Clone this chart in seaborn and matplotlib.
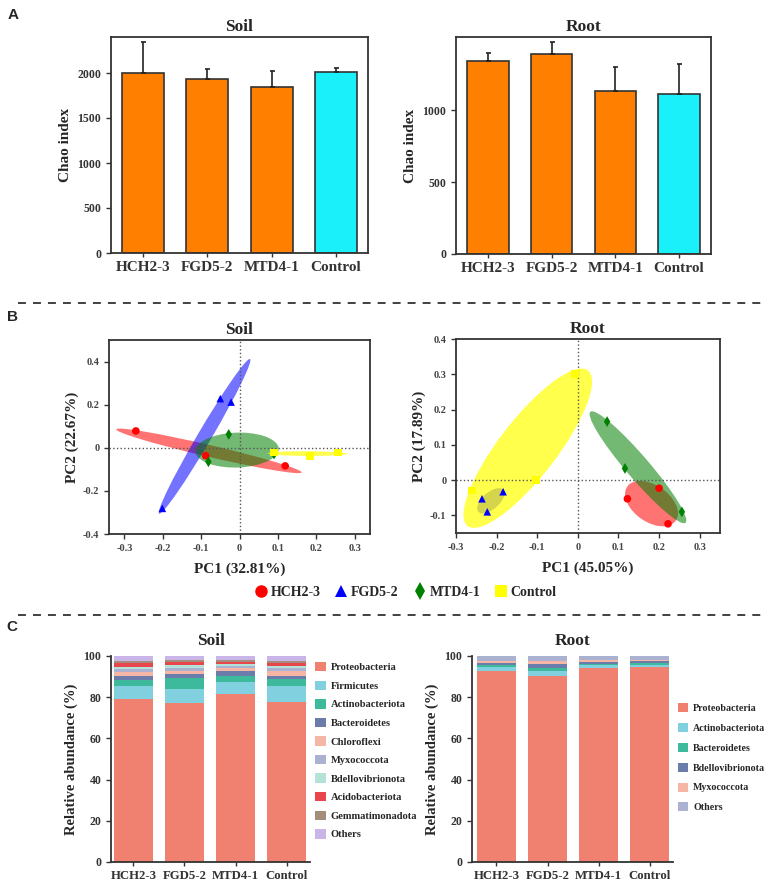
import matplotlib
matplotlib.use('Agg')
import matplotlib.pyplot as plt
from matplotlib.patches import Ellipse, Patch
from matplotlib.lines import Line2D
import seaborn as sns
import numpy as np
import pandas as pd

W, H = 767, 882

groups = ['HCH2-3', 'FGD5-2', 'MTD4-1', 'Control']

# A: Chao index, mean and upper error
chao_soil = [2003, 1930, 1844, 2008]
chao_soil_err = [340, 110, 180, 50]
chao_root = [1338, 1391, 1132, 1113]
chao_root_err = [56, 83, 169, 204]
bar_colors = ['#FF7F00', '#FF7F00', '#FF7F00', '#19F0FA']

# B: PCA scores (3 replicates per treatment)
pca_group = ['HCH2-3'] * 3 + ['FGD5-2'] * 3 + ['MTD4-1'] * 3 + ['Control'] * 3
soil_pc1 = [-0.270, -0.088, 0.119, -0.050, -0.022, -0.201, -0.028, -0.081, 0.090, 0.090, 0.184, 0.257]
soil_pc2 = [0.078, -0.037, -0.084, 0.228, 0.212, -0.281, 0.062, -0.065, -0.029, -0.022, -0.037, -0.022]
root_pc1 = [0.200, 0.122, 0.222, -0.236, -0.184, -0.223, 0.072, 0.116, 0.256, -0.007, -0.103, -0.260]
root_pc2 = [-0.023, -0.053, -0.124, -0.053, -0.033, -0.090, 0.166, 0.033, -0.090, 0.300, 0.000, -0.029]
pca_colors = {'HCH2-3': '#FF0000', 'FGD5-2': '#0000FF', 'MTD4-1': '#008000', 'Control': '#FFFF00'}
pca_markers = {'HCH2-3': 'o', 'FGD5-2': '^', 'MTD4-1': 'd', 'Control': 's'}
ell_alpha = {'HCH2-3': 0.55, 'FGD5-2': 0.55, 'MTD4-1': 0.55, 'Control': 0.7}
K_ELL = 1.24

# C: relative abundance (%) of phyla
soil_taxa = ['Proteobacteria', 'Firmicutes', 'Actinobacteriota', 'Bacteroidetes', 'Chloroflexi',
             'Myxococcota', 'Bdellovibrionota', 'Acidobacteriota', 'Gemmatimonadota', 'Others']
soil_abund = {
    'HCH2-3': [79.2, 6.0, 3.2, 2.1, 1.7, 1.4, 1.3, 1.6, 1.1, 2.4],
    'FGD5-2': [77.3, 6.5, 5.7, 1.8, 1.6, 1.4, 1.3, 1.3, 1.1, 2.0],
    'MTD4-1': [81.4, 5.8, 3.1, 2.4, 1.3, 1.1, 1.0, 1.0, 0.8, 2.1],
    'Control': [77.8, 7.6, 3.3, 1.6, 2.4, 1.3, 1.3, 1.5, 0.8, 2.4],
}
root_taxa = ['Proteobacteria', 'Actinobacteriota', 'Bacteroidetes', 'Bdellovibrionota', 'Myxococcota', 'Others']
root_abund = {
    'HCH2-3': [92.7, 2.0, 1.0, 0.9, 1.0, 2.4],
    'FGD5-2': [90.2, 2.5, 1.6, 1.6, 1.5, 2.6],
    'MTD4-1': [94.4, 1.1, 0.8, 1.0, 0.6, 2.1],
    'Control': [94.7, 1.1, 0.8, 0.8, 0.8, 1.8],
}
soil_colors = ['#F0806F', '#80D0E0', '#3DB99B', '#6B7CAA', '#F6B6A6',
               '#ABB1D0', '#B3E2D8', '#E8464C', '#A38E7C', '#CAB5E8']
root_colors = ['#F0806F', '#80D0E0', '#3DB99B', '#6B7CAA', '#F6B6A6', '#ABB1D0']

sns.set_style('ticks')
plt.rcParams['font.family'] = ['Liberation Serif', 'DejaVu Serif']
plt.rcParams['font.weight'] = 'bold'
plt.rcParams['axes.labelweight'] = 'bold'
plt.rcParams['axes.titleweight'] = 'bold'
plt.rcParams['axes.edgecolor'] = '#333333'
plt.rcParams['xtick.color'] = '#333333'
plt.rcParams['ytick.color'] = '#333333'

fig = plt.figure(figsize=(W / 100, H / 100), dpi=100)


def px_axes(x0, y0, x1, y1):
    return fig.add_axes([x0 / W, 1 - y1 / H, (x1 - x0) / W, (y1 - y0) / H])


def chao_panel(box, title, vals, errs, yticks, ymax):
    ax = px_axes(*box)
    sns.barplot(x=groups, y=vals, hue=groups, palette=bar_colors, width=0.65, saturation=1,
                edgecolor='#333333', linewidth=1.2, legend=False, ax=ax)
    ax.errorbar(range(4), vals, yerr=[np.zeros(4), errs], fmt='none', ecolor='#222222',
                elinewidth=1.2, capsize=1.8, capthick=1.2, zorder=3)
    ax.set_xlim(-0.5, 3.5)
    ax.set_ylim(0, ymax)
    ax.set_yticks(yticks)
    ax.set_title(title, fontsize=12.5, pad=4)
    ax.set_ylabel('Chao index', fontsize=11, labelpad=4)
    ax.tick_params(axis='x', labelsize=11, length=3, width=1, pad=3)
    ax.tick_params(axis='y', labelsize=8.5, length=3.5, width=1)
    for s in ax.spines.values():
        s.set_linewidth(1.3)
    return ax


chao_panel((111, 37, 368, 253), 'Soil', chao_soil, chao_soil_err, [0, 500, 1000, 1500, 2000], 2400)
chao_panel((456, 37, 711, 254), 'Root', chao_root, chao_root_err, [0, 500, 1000], 1507)


def pca_panel(box, title, pc1, pc2, xlim, ylim, yticks, xlab, ylab):
    ax = px_axes(*box)
    df = pd.DataFrame({'PC1': pc1, 'PC2': pc2, 'group': pca_group})
    for g in groups:
        sub = df[df.group == g]
        cov = np.cov(sub.PC1, sub.PC2)
        vals, vecs = np.linalg.eigh(cov)
        angle = np.degrees(np.arctan2(vecs[1, 1], vecs[0, 1]))
        ax.add_patch(Ellipse((sub.PC1.mean(), sub.PC2.mean()),
                             2 * K_ELL * np.sqrt(vals[1]), 2 * K_ELL * np.sqrt(max(vals[0], 0)),
                             angle=angle, facecolor=pca_colors[g], alpha=ell_alpha[g], lw=0, zorder=1))
    ax.axhline(0, color='#555555', ls=':', lw=1, zorder=2)
    ax.axvline(0, color='#555555', ls=':', lw=1, zorder=2)
    sns.scatterplot(data=df, x='PC1', y='PC2', hue='group', style='group', palette=pca_colors,
                    markers=pca_markers, s=30, linewidth=0, legend=False, ax=ax, zorder=3)
    ax.set_xlim(*xlim)
    ax.set_ylim(*ylim)
    ax.set_xticks([-0.3, -0.2, -0.1, 0, 0.1, 0.2, 0.3])
    ax.set_xticklabels(['-0.3', '-0.2', '-0.1', '0', '0.1', '0.2', '0.3'])
    ax.set_yticks(yticks)
    ax.set_yticklabels(['0' if abs(t) < 1e-9 else '%g' % t for t in yticks])
    ax.set_title(title, fontsize=12.5, pad=4)
    ax.set_xlabel(xlab, fontsize=11, labelpad=7)
    ax.set_ylabel(ylab, fontsize=11, labelpad=3)
    ax.tick_params(labelsize=7.5, length=3.5, width=1, labelcolor='#444444')
    for s in ax.spines.values():
        s.set_linewidth(1.3)
    return ax


pca_panel((109, 340, 370, 534), 'Soil', soil_pc1, soil_pc2, (-0.34, 0.34), (-0.4, 0.5),
          [-0.4, -0.2, 0, 0.2, 0.4], 'PC1 (32.81%)', 'PC2 (22.67%)')
pca_panel((456, 339, 720, 533), 'Root', root_pc1, root_pc2, (-0.3, 0.35), (-0.15, 0.4),
          [-0.1, 0, 0.1, 0.2, 0.3, 0.4], 'PC1 (45.05%)', 'PC2 (17.89%)')

handles = [Line2D([], [], ls='none', marker=pca_markers[g], color=pca_colors[g], markersize=9,
                  markeredgewidth=0) for g in groups]
fig.legend(handles, groups, loc='center', bbox_to_anchor=(406 / W, 1 - 592 / H), ncol=4,
           frameon=False, handletextpad=0.3, columnspacing=1.1, handlelength=0.8,
           prop={'size': 10, 'weight': 'bold'})


def abund_panel(box, title, taxa, abund, colors, xlim, leg_anchor, leg_size, leg_spacing):
    ax = px_axes(*box)
    mat = np.array([abund[g] for g in groups])
    cum = np.cumsum(mat, axis=1)
    for i in range(len(taxa) - 1, -1, -1):
        sns.barplot(x=groups, y=cum[:, i], color=colors[i], width=0.75, saturation=1,
                    linewidth=0, ax=ax)
    ax.set_xlim(*xlim)
    ax.set_ylim(0, 100)
    ax.set_yticks([0, 20, 40, 60, 80, 100])
    sns.despine(ax=ax)
    ax.spines['left'].set_linewidth(1.3)
    ax.spines['bottom'].set_linewidth(1.3)
    ax.set_title(title, fontsize=12.5, pad=8)
    ax.set_ylabel('Relative abundance (%)', fontsize=10.5, labelpad=4)
    ax.tick_params(axis='x', labelsize=9.2, length=3, width=1, pad=3)
    ax.tick_params(axis='y', labelsize=8.5, length=3.5, width=1)
    hs = [Patch(facecolor=c, edgecolor='none') for c in colors]
    ax.legend(hs, taxa, loc='upper left', bbox_to_anchor=leg_anchor, bbox_transform=fig.transFigure,
              frameon=False, borderpad=0, borderaxespad=0, handlelength=1.0, handleheight=1.0,
              handletextpad=0.5, labelspacing=leg_spacing, prop={'size': leg_size, 'weight': 'bold'})
    return ax


abund_panel((111, 656, 310, 862), 'Soil', soil_taxa, soil_abund, soil_colors, (-0.44, 3.46),
            (315 / W, 1 - 662 / H), 7.6, 0.78)
abund_panel((472, 656, 673, 862), 'Root', root_taxa, root_abund, root_colors, (-0.48, 3.46),
            (678 / W, 1 - 703 / H), 7.2, 1.0)

# section separators and panel letters
for yy in [303, 615]:
    fig.add_artist(Line2D([18 / W, 763 / W], [1 - yy / H] * 2, color='#333333', lw=1.3,
                          dashes=(4.4, 3.9)))
for letter, (lx, ly) in zip('ABC', [(13, 15), (13, 317), (12, 627)]):
    fig.text(lx / W, 1 - ly / H, letter, family='Liberation Sans', weight='bold', fontsize=11,
             ha='center', va='center')

fig.savefig('out.png', dpi=100)
